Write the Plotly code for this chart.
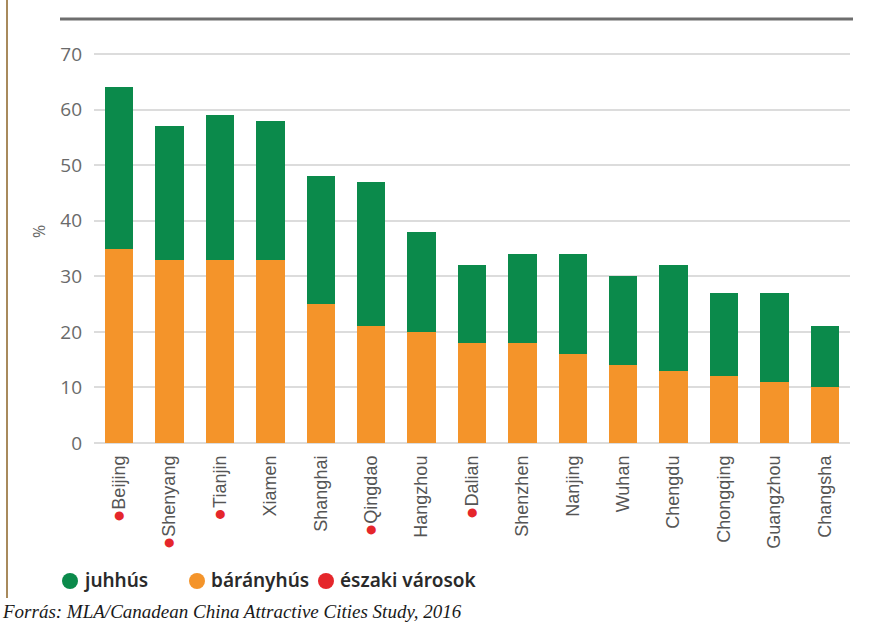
import plotly.graph_objects as go

cities = ["Beijing", "Shenyang", "Tianjin", "Xiamen", "Shanghai", "Qingdao", "Hangzhou",
          "Dalian", "Shenzhen", "Nanjing", "Wuhan", "Chengdu", "Chongqing", "Guangzhou", "Changsha"]
northern = ["Beijing", "Shenyang", "Tianjin", "Qingdao", "Dalian"]
baranyhus = [35, 33, 33, 33, 25, 21, 20, 18, 18, 16, 14, 13, 12, 11, 10]
total = [64, 57, 59, 58, 48, 47, 38, 32, 34, 34, 30, 32, 27, 27, 21]
juhhus = [t - b for t, b in zip(total, baranyhus)]
y_ticks = [0, 10, 20, 30, 40, 50, 60, 70]
legend_names = ["juhhús", "bárányhús", "északi városok"]

GREEN = "#0b8a4b"
ORANGE = "#f4942a"
RED = "#e5262b"
legend_colors = [GREEN, ORANGE, RED]
legend_x = [70, 197, 326]  # circle centres in px

W, H = 873, 631
L, R, T, B = 94, 23, 19, 188
pw, ph = W - L - R, H - T - B

def px(x):
    return (x - L) / pw

def py(y):
    return (H - B - y) / ph

ticktext = [
    (f"<span style='color:{RED};font-size:21px'>●</span>{c}" if c in northern else c) for c in cities
]

fig = go.Figure()
fig.add_trace(go.Bar(x=cities, y=baranyhus, marker=dict(color=ORANGE, line=dict(width=0)),
                     showlegend=False, name="bárányhús"))
fig.add_trace(go.Bar(x=cities, y=juhhus, marker=dict(color=GREEN, line=dict(width=0)),
                     showlegend=False, name="juhhús"))

shapes = [
    dict(type="line", xref="paper", yref="paper", x0=px(60), x1=px(853), y0=1, y1=1,
         line=dict(color="#6e6e6e", width=3)),
    dict(type="line", xref="paper", yref="paper", x0=px(7), x1=px(7), y0=py(0), y1=py(598),
         line=dict(color="#a88a5c", width=2)),
]
annotations = [
    dict(text="%", xref="paper", yref="paper", x=px(39), y=py(232), textangle=-90,
         xanchor="center", yanchor="middle",
         showarrow=False, font=dict(family="Open Sans, sans-serif", size=16, color="#6a6a6a")),
    dict(text="<i>Forrás: MLA/Canadean China Attractive Cities Study, 2016</i>",
         xref="paper", yref="paper", x=px(0), y=py(611), xanchor="left", yanchor="middle",
         showarrow=False,
         font=dict(family="Liberation Serif, DejaVu Serif, serif", size=19, color="#1a1a1a")),
]
for name, col, cx in zip(legend_names, legend_colors, legend_x):
    shapes.append(dict(type="circle", xref="paper", yref="paper",
                       xsizemode="pixel", ysizemode="pixel",
                       xanchor=px(cx), yanchor=py(581),
                       x0=-8, x1=8, y0=-8, y1=8,
                       fillcolor=col, line=dict(width=0)))
    annotations.append(dict(text=name, xref="paper", yref="paper", x=px(cx + 12), y=py(580),
                            xanchor="left", yanchor="middle", showarrow=False,
                            font=dict(family="Noto Sans, sans-serif", size=19,
                                      color="#2a2a2a", weight=600)))

fig.update_layout(
    width=W, height=H, autosize=False,
    margin=dict(l=L, r=R, t=T, b=B, pad=0),
    paper_bgcolor="white", plot_bgcolor="white",
    barmode="stack", bargap=0.44, showlegend=False,
    xaxis=dict(
        tickmode="array", tickvals=cities, ticktext=ticktext,
        tickangle=-90, ticklabelstandoff=8,
        tickfont=dict(family="Liberation Sans Narrow, Arial Narrow, Liberation Sans, sans-serif",
                      size=18, color="#555555"),
        showgrid=False, showline=False, ticks="",
        range=[-0.5, len(cities) - 0.5],
    ),
    yaxis=dict(
        range=[0, 76.3], tickvals=y_ticks, ticktext=[str(v) for v in y_ticks],
        showgrid=True, gridcolor="#dcdcdc", gridwidth=2,
        zeroline=True, zerolinecolor="#dcdcdc", zerolinewidth=2,
        showline=False, ticks="", ticklabelstandoff=11,
        tickfont=dict(family="Open Sans, sans-serif", size=19, color="#6a6a6a"),
    ),
    shapes=shapes,
    annotations=annotations,
)

fig.write_html("out.html")
